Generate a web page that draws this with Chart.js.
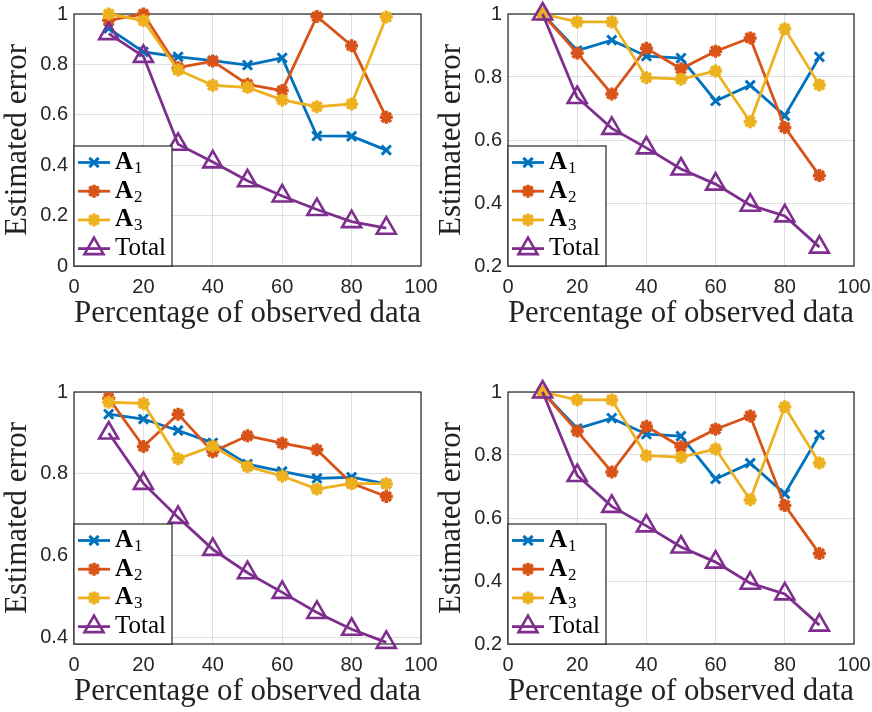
<!DOCTYPE html>
<html lang="en">
<head>
<meta charset="UTF-8">
<title>Estimated error vs observed data</title>
<script src="https://cdn.jsdelivr.net/npm/chart.js"></script>
<style>
    body { margin: 0; background: #ffffff; }
    .wrap { position: relative; width: 872px; height: 712px; }
    .wrap canvas { position: absolute; }
</style>
</head>
<body>
<div class="wrap">
    <canvas id="chartTL" width="470" height="356" style="left:0;top:0"></canvas>
    <canvas id="chartBL" width="470" height="356" style="left:0;top:356px"></canvas>
    <canvas id="chartTR" width="436" height="356" style="left:436px;top:0"></canvas>
    <canvas id="chartBR" width="436" height="356" style="left:436px;top:356px"></canvas>
</div>
<script>
const xPct = [10, 20, 30, 40, 50, 60, 70, 80, 90];
const xTicks = [0, 20, 40, 60, 80, 100];
const seriesNames = ['A1', 'A2', 'A3', 'Total'];

// top left
const tlA1 = [0.943, 0.850, 0.830, 0.815, 0.797, 0.826, 0.516, 0.515, 0.460];
const tlA2 = [0.975, 1.000, 0.787, 0.813, 0.721, 0.696, 0.990, 0.874, 0.590];
const tlA3 = [1.000, 0.974, 0.778, 0.717, 0.709, 0.659, 0.632, 0.643, 0.988];
const tlTotal = [0.922, 0.832, 0.483, 0.413, 0.338, 0.278, 0.224, 0.176, 0.150];
const tlYTicks = [0, 0.2, 0.4, 0.6, 0.8, 1];

// top right
const trA1 = [1.000, 0.884, 0.917, 0.866, 0.860, 0.724, 0.774, 0.677, 0.864];
const trA2 = [1.000, 0.876, 0.746, 0.891, 0.826, 0.882, 0.924, 0.640, 0.487];
const trA3 = [1.000, 0.975, 0.975, 0.798, 0.793, 0.819, 0.658, 0.953, 0.775];
const trTotal = [1.000, 0.735, 0.637, 0.575, 0.508, 0.460, 0.393, 0.359, 0.260];
const trYTicks = [0.2, 0.4, 0.6, 0.8, 1];

// bottom left
const blA1 = [0.946, 0.934, 0.906, 0.876, 0.824, 0.806, 0.789, 0.792, 0.776];
const blA2 = [0.985, 0.867, 0.946, 0.854, 0.893, 0.875, 0.859, 0.777, 0.745];
const blA3 = [0.975, 0.972, 0.837, 0.868, 0.818, 0.795, 0.763, 0.777, 0.776];
const blTotal = [0.900, 0.777, 0.694, 0.616, 0.559, 0.511, 0.462, 0.421, 0.389];
const blYTicks = [0.4, 0.6, 0.8, 1];

// bottom right (same run as top right)
const brA1 = [1.000, 0.884, 0.917, 0.866, 0.860, 0.724, 0.774, 0.677, 0.864];
const brA2 = [1.000, 0.876, 0.746, 0.891, 0.826, 0.882, 0.924, 0.640, 0.487];
const brA3 = [1.000, 0.975, 0.975, 0.798, 0.793, 0.819, 0.658, 0.953, 0.775];
const brTotal = [1.000, 0.735, 0.637, 0.575, 0.508, 0.460, 0.393, 0.359, 0.260];
const brYTicks = [0.2, 0.4, 0.6, 0.8, 1];

const colors = ['#0072BD', '#D95319', '#EDB120', '#7E2F8E'];
const markers = ['crossRot', 'star', 'star', 'triangle'];
const markerRadius = [6.5, 6.5, 6.5, 11];
const markerWidth = [3, 3.5, 3.5, 2.6];

const axisColor = '#262626';
const serif = '"Liberation Serif", "Times New Roman", serif';
const sans = '"Liberation Sans", Arial, sans-serif';

// frame around the plot area (box on)
const frame = {
    id: 'frame',
    beforeDatasetsDraw(chart) {
        const a = chart.chartArea, ctx = chart.ctx;
        ctx.save();
        ctx.strokeStyle = axisColor;
        ctx.lineWidth = 1.2;
        ctx.strokeRect(a.left, a.top, a.right - a.left, a.bottom - a.top);
        ctx.restore();
    }
};

function drawMarker(ctx, style, r, x, y) {
    if (Chart.helpers && Chart.helpers.drawPoint) {
        Chart.helpers.drawPoint(ctx, { pointStyle: style, radius: r, borderWidth: 2.5, rotation: 0 }, x, y);
    }
}

// legend box in the lower left corner, like matlab's
const legendBox = {
    id: 'legendBox',
    afterDatasetsDraw(chart) {
        const a = chart.chartArea, ctx = chart.ctx;
        const w = 98, h = 120;
        const x0 = a.left, y0 = a.bottom - h;
        ctx.save();
        ctx.fillStyle = '#ffffff';
        ctx.fillRect(x0, y0, w, h);
        ctx.strokeStyle = axisColor;
        ctx.lineWidth = 1.2;
        ctx.strokeRect(x0, y0, w, h);
        chart.data.datasets.forEach((ds, i) => {
            const y = y0 + 16.5 + 28.7 * i;
            ctx.strokeStyle = ds.borderColor;
            ctx.lineWidth = ds.borderWidth;
            ctx.beginPath();
            ctx.moveTo(x0 + 4, y);
            ctx.lineTo(x0 + 36, y);
            ctx.stroke();
            ctx.fillStyle = ds.pointBackgroundColor;
            ctx.lineWidth = ds.pointBorderWidth;
            drawMarker(ctx, ds.pointStyle, ds.pointRadius, x0 + 20, y);

            ctx.fillStyle = '#000000';
            ctx.textBaseline = 'middle';
            ctx.textAlign = 'left';
            const m = /^A(\d)$/.exec(ds.label);
            if (m) {
                ctx.font = 'bold 25px ' + serif;
                ctx.fillText('A', x0 + 41, y);
                const aw = ctx.measureText('A').width;
                ctx.font = '17px ' + serif;
                ctx.fillText(m[1], x0 + 42 + aw, y + 6);
            } else {
                ctx.font = '25px ' + serif;
                ctx.fillText(ds.label, x0 + 41, y);
            }
        });
        ctx.restore();
    }
};

function makeChart(id, series, yTicks, yMin, box) {
    const canvas = document.getElementById(id);
    const datasets = series.map((vals, i) => ({
        label: seriesNames[i],
        data: xPct.map((x, k) => ({ x: x, y: vals[k] })),
        borderColor: colors[i],
        backgroundColor: colors[i],
        borderWidth: 2.8,
        pointStyle: markers[i],
        pointRadius: markerRadius[i],
        pointBorderWidth: markerWidth[i],
        pointBorderColor: colors[i],
        pointBackgroundColor: markers[i] === 'triangle' ? 'rgba(0,0,0,0)' : colors[i],
        tension: 0,
        clip: false,
        order: 4 - i
    }));

    return new Chart(canvas, {
        type: 'line',
        data: { datasets: datasets },
        options: {
            responsive: false,
            animation: false,
            devicePixelRatio: 1,
            layout: { padding: { left: 0, top: box.top, right: canvas.width - box.right, bottom: 356 - box.bottom - 66 } },
            plugins: { legend: { display: false }, tooltip: { enabled: false } },
            scales: {
                x: {
                    type: 'linear', min: 0, max: 100,
                    afterBuildTicks: s => { s.ticks = xTicks.map(v => ({ value: v })); },
                    afterFit: s => { s.height = 66; s.paddingLeft = 0; s.paddingRight = 0; },
                    grid: { color: 'rgba(38,38,38,0.15)', lineWidth: 1, drawTicks: false },
                    border: { display: false },
                    ticks: {
                        padding: 9, color: axisColor, maxRotation: 0, autoSkip: false,
                        font: { family: sans, size: 20 },
                        callback: v => String(v)
                    },
                    title: {
                        display: true, text: 'Percentage of observed data', color: '#222',
                        font: { family: serif, size: 31, lineHeight: 1.2 },
                        padding: { top: 0, bottom: 0 }
                    }
                },
                y: {
                    type: 'linear', min: yMin, max: 1,
                    afterBuildTicks: s => { s.ticks = yTicks.map(v => ({ value: v })); },
                    afterFit: s => { s.width = box.left; s.paddingTop = 0; s.paddingBottom = 0; },
                    grid: { color: 'rgba(38,38,38,0.15)', lineWidth: 1, drawTicks: false },
                    border: { display: false },
                    ticks: {
                        padding: 6, color: axisColor, autoSkip: false,
                        font: { family: sans, size: 20 },
                        callback: v => String(v)
                    },
                    title: {
                        display: true, text: 'Estimated error', color: '#222',
                        font: { family: serif, size: 31, lineHeight: 1 },
                        padding: { top: box.ytitle - 15.5, bottom: 0 }
                    }
                }
            }
        },
        plugins: [frame, legendBox]
    });
}

makeChart('chartTL', [tlA1, tlA2, tlA3, tlTotal], tlYTicks, 0,
    { left: 74, right: 421, top: 14, bottom: 266, ytitle: 17.5 });
makeChart('chartTR', [trA1, trA2, trA3, trTotal], trYTicks, 0.2,
    { left: 72, right: 418, top: 14, bottom: 266, ytitle: 15.5 });
makeChart('chartBL', [blA1, blA2, blA3, blTotal], blYTicks, 0.385,
    { left: 74, right: 421, top: 36, bottom: 288, ytitle: 17.5 });
makeChart('chartBR', [brA1, brA2, brA3, brTotal], brYTicks, 0.2,
    { left: 72, right: 418, top: 36, bottom: 288, ytitle: 15.5 });
</script>
</body>
</html>
